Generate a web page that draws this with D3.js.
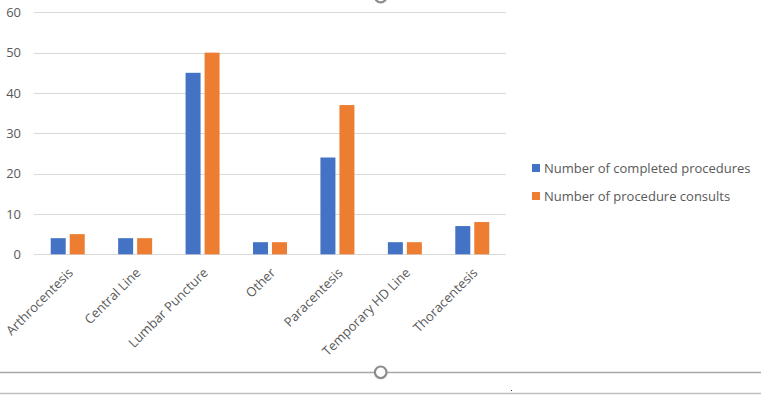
<!DOCTYPE html>
<html><head><meta charset="utf-8">
<script src="https://cdn.jsdelivr.net/npm/d3@7"></script>
<style>body{margin:0;background:#fff}svg{display:block}</style>
</head><body>
<svg id="c" width="761" height="406"></svg>
<script>
const categories = ["Arthrocentesis","Central Line","Lumbar Puncture","Other","Paracentesis","Temporary HD Line","Thoracentesis"];
const completed = [4,4,45,3,24,3,7];
const consults = [5,4,50,3,37,3,8];
const seriesNames = ["Number of completed procedures","Number of procedure consults"];
const yTicks = [0,10,20,30,40,50,60];

const colors = ["#4472C4","#ED7D31"];
const font = "'Open Sans', sans-serif";
const svg = d3.select("#c");
const pLeft = 34, pRight = 506, pTop = 12.3, pBottom = 254.3;

const x = d3.scaleBand().domain(categories).range([pLeft, pRight]);
const y = d3.scaleLinear().domain([0,60]).range([pBottom, pTop]);
const barW = 15, gap = 4;

// gridlines
svg.append("g").selectAll("line").data(yTicks).join("line")
  .attr("x1", pLeft).attr("x2", pRight)
  .attr("y1", d => Math.round(y(d))+0.5).attr("y2", d => Math.round(y(d))+0.5)
  .attr("stroke", "#d9d9d9").attr("stroke-width", 1);

// y labels
const yAxis = d3.axisLeft(y).tickValues(yTicks).tickSize(0).tickPadding(0);
const ya = svg.append("g").attr("transform", `translate(21,0)`).call(yAxis);
ya.select(".domain").remove();
ya.selectAll("text").attr("font-family", font).attr("font-size", 13).attr("fill", "#595959");

// bars
const data = categories.map((c,i) => ({c, vals:[completed[i], consults[i]]}));
const g = svg.append("g");
data.forEach(d => {
  const cx = x(d.c) + x.bandwidth()/2;
  d.vals.forEach((v,k) => {
    const x0 = k === 0 ? cx - gap/2 - barW : cx + gap/2;
    g.append("rect").attr("x", x0).attr("width", barW)
      .attr("y", y(v)).attr("height", y(0) - y(v)).attr("fill", colors[k]);
  });
});

// x labels
const xa = svg.append("g").attr("transform", `translate(0,${pBottom})`)
  .call(d3.axisBottom(x).tickSize(0).tickPadding(0));
xa.select(".domain").remove();
xa.selectAll("text")
  .attr("font-family", font).attr("font-size", 13).attr("fill", "#595959")
  .attr("text-anchor", "end")
  .attr("transform", "translate(3,16) rotate(-45)")
  .attr("dy", "0.35em").attr("y", 0);

// legend
const lg = svg.append("g");
seriesNames.forEach((n,k) => {
  lg.append("rect").attr("x", 532).attr("y", 164 + k*28).attr("width", 8).attr("height", 8).attr("fill", colors[k]);
  lg.append("text").attr("x", 544).attr("y", 172.5 + k*28).text(n)
    .attr("font-family", font).attr("font-size", 13).attr("fill", "#595959");
});

// decorations (selection frame)
svg.append("line").attr("x1",0).attr("x2",761).attr("y1",372.5).attr("y2",372.5).attr("stroke","#a6a6a6").attr("stroke-width",1.5);
svg.append("line").attr("x1",0).attr("x2",761).attr("y1",393.5).attr("y2",393.5).attr("stroke","#c0c0c0").attr("stroke-width",1.5);
svg.append("circle").attr("cx",380.7).attr("cy",372.3).attr("r",5.8).attr("fill","#fff").attr("stroke","#8c8c8c").attr("stroke-width",2.2);
svg.append("circle").attr("cx",380.7).attr("cy",-3.5).attr("r",5.8).attr("fill","#fff").attr("stroke","#8c8c8c").attr("stroke-width",2.2);
svg.append("rect").attr("x",511).attr("y",390).attr("width",1).attr("height",1).attr("fill","#333");
</script>
</body></html>
